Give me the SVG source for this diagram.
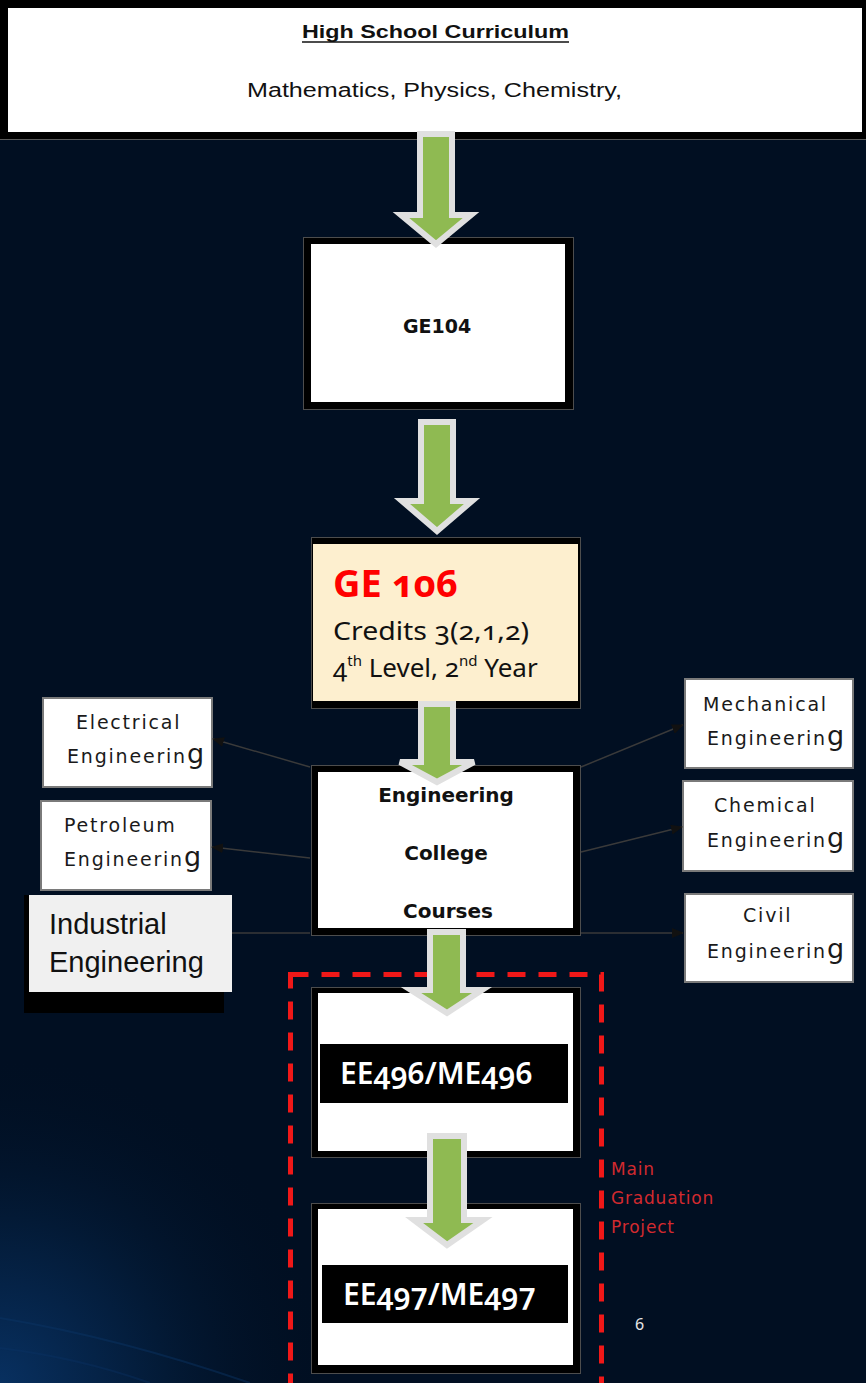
<svg xmlns="http://www.w3.org/2000/svg" width="866" height="1383" viewBox="0 0 866 1383">
<defs>
  <radialGradient id="swirl" cx="0" cy="1383" r="330" gradientUnits="userSpaceOnUse">
    <stop offset="0" stop-color="#083060"/>
    <stop offset="0.5" stop-color="#031a36"/>
    <stop offset="1" stop-color="#010f22" stop-opacity="0"/>
  </radialGradient>
  <marker id="ah" viewBox="0 0 12 10" refX="11" refY="5" markerWidth="12" markerHeight="10" markerUnits="userSpaceOnUse" orient="auto">
    <path d="M0,0 L12,5 L0,10 Z" fill="#111"/>
  </marker>
  <style>
    .frame{fill:#000;stroke:#4d4d4d;stroke-width:1}
    .inner{fill:#fff}
    .arrow{fill:#8fba52;stroke:#e0e0e0;stroke-width:6;stroke-linejoin:miter}
    .side{fill:#fff;stroke:#7a7a7a;stroke-width:2}
    .st{font-family:"DejaVu Sans",sans-serif;font-size:19px;fill:#1a1a1a;letter-spacing:1.8px}
    .big{font-size:27px;letter-spacing:0}
    .conn{fill:none;stroke:#3a3a3a;stroke-width:1.5}
    .bold{font-family:"DejaVu Sans",sans-serif;font-weight:bold;fill:#111}
    .noto{font-family:"Noto Sans",sans-serif;font-variant-numeric:oldstyle-nums}
    .lbl{fill:#000}
    .lbltext{font-family:"Noto Sans",sans-serif;font-weight:600;font-size:30px;fill:#fff;font-variant-numeric:oldstyle-nums}
  </style>
</defs>

<rect x="0" y="0" width="866" height="1383" fill="#010f22"/>
<rect x="0" y="1040" width="866" height="343" fill="url(#swirl)"/>
<path d="M0,1318 Q120,1338 250,1383" fill="none" stroke="#0b3566" stroke-width="2" opacity="0.45"/>
<path d="M0,1348 Q80,1358 150,1383" fill="none" stroke="#0b3566" stroke-width="2" opacity="0.35"/>

<g id="header">
  <rect x="0" y="0" width="866" height="139" fill="#000"/>
  <line x1="0" y1="139.5" x2="866" y2="139.5" stroke="#5a5a5a" stroke-width="1"/>
  <rect x="8" y="8" width="854" height="124" fill="#fff"/>
  <text x="302" y="38" font-family="Liberation Sans, sans-serif" font-weight="bold" font-size="19" fill="#111" textLength="267" lengthAdjust="spacingAndGlyphs">High School Curriculum</text>
  <line x1="302" y1="42" x2="569" y2="42" stroke="#111" stroke-width="1.5"/>
  <text x="247" y="97" font-family="Liberation Sans, sans-serif" font-size="20" fill="#111" textLength="375" lengthAdjust="spacingAndGlyphs">Mathematics, Physics, Chemistry,</text>
</g>

<g id="ge104">
  <rect class="frame" x="303.5" y="237.5" width="270" height="172"/>
  <rect class="inner" x="311" y="244" width="254" height="158"/>
  <text class="bold" x="437" y="333" font-size="19" text-anchor="middle">GE104</text>
</g>

<g id="ge106">
  <rect class="frame" x="311.5" y="537.5" width="269" height="171"/>
  <rect x="313" y="544" width="265" height="157" fill="#fdefcf"/>
  <text class="noto" x="333" y="597" font-size="38" font-weight="bold" fill="#ff0000">GE 106</text>
  <text class="noto" x="333" y="640" font-size="26" fill="#111" textLength="196" lengthAdjust="spacingAndGlyphs">Credits 3(2,1,2)</text>
  <text class="noto" x="333" y="677" font-size="26" fill="#111">4<tspan font-size="15" dy="-11">th</tspan><tspan dy="11"> Level, 2</tspan><tspan font-size="15" dy="-11">nd</tspan><tspan dy="11"> Year</tspan></text>
</g>

<g id="eng-college">
  <rect class="frame" x="311.5" y="765.5" width="269" height="170"/>
  <rect class="inner" x="318" y="772" width="255" height="156"/>
  <text class="bold" x="446" y="802" font-size="20" text-anchor="middle">Engineering</text>
  <text class="bold" x="446" y="860" font-size="20" text-anchor="middle">College</text>
  <text class="bold" x="448" y="918" font-size="20" text-anchor="middle">Courses</text>
</g>

<g id="electrical">
  <rect class="side" x="43" y="698" width="169" height="89"/>
  <text class="st" x="76" y="729">Electrical</text>
  <text class="st" x="67" y="763">Engineerin<tspan class="big">g</tspan></text>
</g>
<g id="petroleum">
  <rect class="side" x="41" y="801" width="170" height="89"/>
  <text class="st" x="64" y="832">Petroleum</text>
  <text class="st" x="64" y="866">Engineerin<tspan class="big">g</tspan></text>
</g>
<g id="industrial">
  <rect x="24" y="895" width="200" height="118" fill="#000"/>
  <rect x="29" y="895" width="203" height="97" fill="#f0f0f0"/>
  <text x="49" y="934" font-family="Liberation Sans, sans-serif" font-size="29" fill="#111">Industrial</text>
  <text x="49" y="972" font-family="Liberation Sans, sans-serif" font-size="29" fill="#111">Engineering</text>
</g>
<g id="mechanical">
  <rect class="side" x="685" y="679" width="168" height="89"/>
  <text class="st" x="703" y="711">Mechanical</text>
  <text class="st" x="707" y="745">Engineerin<tspan class="big">g</tspan></text>
</g>
<g id="chemical">
  <rect class="side" x="683" y="781" width="170" height="90"/>
  <text class="st" x="714" y="812">Chemical</text>
  <text class="st" x="707" y="847">Engineerin<tspan class="big">g</tspan></text>
</g>
<g id="civil">
  <rect class="side" x="685" y="894" width="168" height="88"/>
  <text class="st" x="743" y="922">Civil</text>
  <text class="st" x="707" y="958">Engineerin<tspan class="big">g</tspan></text>
</g>

<g id="ee496">
  <rect class="frame" x="311.5" y="987.5" width="269" height="170"/>
  <rect class="inner" x="318" y="993" width="255" height="158"/>
  <rect class="lbl" x="320" y="1044" width="248" height="59"/>
  <text class="lbltext" x="340" y="1084">EE496/ME496</text>
</g>

<g id="ee497">
  <rect class="frame" x="311.5" y="1203.5" width="269" height="170"/>
  <rect class="inner" x="318" y="1209" width="255" height="156"/>
  <rect class="lbl" x="322" y="1265" width="246" height="58"/>
  <text class="lbltext" x="343" y="1305">EE497/ME497</text>
</g>

<g id="graduation-project">
  <rect x="290.5" y="974.5" width="311" height="440" fill="none" stroke="#f01818" stroke-width="5" stroke-dasharray="18 13"/>
  <text font-family="DejaVu Sans, sans-serif" font-size="17" fill="#d22a2f" letter-spacing="0.8">
    <tspan x="611" y="1175">Main</tspan>
    <tspan x="611" y="1204">Graduation</tspan>
    <tspan x="611" y="1233">Project</tspan>
  </text>
</g>

<g id="page-number">
  <text x="635" y="1330" font-family="Noto Sans, sans-serif" font-size="16" fill="#e6e6e6">6</text>
</g>

<g id="connectors">
  <line class="conn" x1="310" y1="767" x2="213" y2="739" marker-end="url(#ah)"/>
  <line class="conn" x1="310" y1="858" x2="212" y2="847" marker-end="url(#ah)"/>
  <line class="conn" x1="310" y1="933" x2="232" y2="933"/>
  <line class="conn" x1="581" y1="767" x2="683" y2="725" marker-end="url(#ah)"/>
  <line class="conn" x1="581" y1="852" x2="682" y2="827" marker-end="url(#ah)"/>
  <line class="conn" x1="581" y1="933" x2="683" y2="933" marker-end="url(#ah)"/>
  <path class="arrow" d="M420,134 L452,134 L452,215 L471,215 L436,244 L401,215 L420,215 Z"/>
  <path class="arrow" d="M421,422 L453,422 L453,501 L472,501 L437,531 L402,501 L421,501 Z"/>
  <path class="arrow" d="M421,704 L453,704 L453,762 L474,762 L437,782 L400,762 L421,762 Z"/>
  <path class="arrow" d="M430,932 L463,932 L463,990 L482,990 L447,1013 L411,990 L430,990 Z"/>
  <path class="arrow" d="M430,1136 L464,1136 L464,1220 L483,1220 L447,1245 L414,1220 L430,1220 Z"/>
</g>
</svg>
